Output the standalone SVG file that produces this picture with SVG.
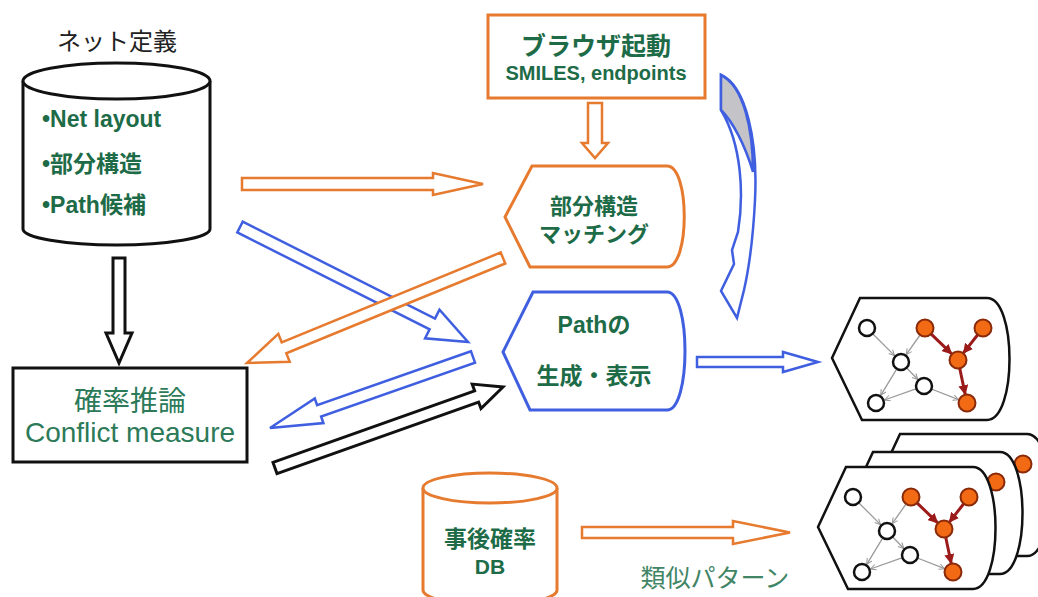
<svg xmlns="http://www.w3.org/2000/svg" width="1038" height="597" viewBox="0 0 1038 597">
<style>
.bg{fill:#ffffff}
.or{fill:#ffffff;stroke:#e67a2e;stroke-width:3}
.bl{fill:#ffffff;stroke:#3f5fe0;stroke-width:3}
.bk{fill:#ffffff;stroke:#111111;stroke-width:3}
.arO{fill:#ffffff;stroke:#e67a2e;stroke-width:2.5;stroke-linejoin:miter}
.arB{fill:#ffffff;stroke:#3f5fe0;stroke-width:2.5;stroke-linejoin:miter}
.arK{fill:#ffffff;stroke:#111111;stroke-width:3;stroke-linejoin:miter}
.tb{font-family:"Liberation Sans","Noto Sans CJK JP",sans-serif;font-weight:bold;fill:#1d6b47}
.tn{font-family:"Liberation Sans","Noto Sans CJK JP",sans-serif;fill:#2c7a58}
.wn{fill:#ffffff;stroke:#111111;stroke-width:2.5}
.on{fill:#f26a14;stroke:#8a2a08;stroke-width:2}
.ge{stroke:#9a9a9a;stroke-width:1.3;fill:none;marker-end:url(#mg)}
.re{stroke:#9b1b1b;stroke-width:3;fill:none;marker-end:url(#mr)}
.card{fill:#ffffff;stroke:#111111;stroke-width:2.5}
</style>
<defs>
<marker id="mg" viewBox="0 0 10 10" refX="9" refY="5" markerWidth="7" markerHeight="7" markerUnits="userSpaceOnUse" orient="auto">
<path d="M1,1 L9,5 L1,9" fill="none" stroke="#9a9a9a" stroke-width="1.5"/>
</marker>
<marker id="mr" viewBox="0 0 10 10" refX="9" refY="5" markerWidth="10" markerHeight="10" markerUnits="userSpaceOnUse" orient="auto">
<path d="M0,0 L10,5 L0,10 Z" fill="#9b1b1b"/>
</marker>
<path id="cardShape" d="M860,298 L987,298 C1017,298 1017,420 987,420 L862,420 L832,358 Z"/>
<g id="graph">
<use href="#cardShape" class="card"/>
<line class="ge" x1="872.7" y1="333.7" x2="894.6" y2="355.6"/>
<line class="ge" x1="920.4" y1="334.5" x2="906.2" y2="354.6"/>
<line class="ge" x1="896.8" y1="368.8" x2="880.7" y2="395.3"/>
<line class="ge" x1="906.5" y1="367.8" x2="917.8" y2="379.5"/>
<line class="ge" x1="916.5" y1="388.7" x2="884.5" y2="400.0"/>
<line class="ge" x1="931.4" y1="389.0" x2="958.6" y2="399.7"/>
<line class="re" x1="930.7" y1="333.6" x2="951.5" y2="353.7"/>
<line class="re" x1="978.1" y1="334.3" x2="963.5" y2="352.9"/>
<line class="re" x1="959.6" y1="367.8" x2="965.2" y2="394.2"/>
<circle class="wn" cx="867" cy="328" r="8"/>
<circle class="on" cx="925" cy="328" r="8.5"/>
<circle class="on" cx="983" cy="328" r="8.5"/>
<circle class="wn" cx="901" cy="362" r="8"/>
<circle class="on" cx="958" cy="360" r="8.5"/>
<circle class="wn" cx="924" cy="386" r="8"/>
<circle class="wn" cx="876" cy="403" r="8"/>
<circle class="on" cx="967" cy="403" r="8.5"/>
</g>
</defs>
<rect class="bg" x="0" y="0" width="1038" height="597"/>

<g id="connectors">
<polygon id="a-net-match" class="arO" points="242,178 433,178 433,173 483,184 433,195 433,190 242,190"/>
<polygon id="a-browser-match" class="arO" points="588,103 602,103 602,143 608,143 595,158 582,143 588,143"/>
<polygon id="a-net-conflict" class="arK" points="113,258 125,258 125,333 132,333 119,363 106,333 113,333"/>
<polygon id="a-path-result" class="arB" points="697,357 783,357 783,352 818,362 783,372 783,367 697,367"/>
<polygon id="a-db-similar" class="arO" points="582,527 733,527 733,521 790,532.5 733,544 733,538 582,538"/>
<polygon id="a-net-path" class="arB" points="242.7,221.6 435.0,318.6 439.5,309.7 468,342 425.1,338.3 429.6,329.4 237.3,232.4"/>
<polygon id="a-match-conflict" class="arO" points="500.7,252.5 281.7,342.3 278.3,333.9 247,363 289.7,361.7 286.3,353.3 505.3,263.5"/>
<polygon id="a-path-conflict" class="arB" points="471.0,351.3 317.1,405.1 314.8,398.5 270,428 323.4,423.1 321.1,416.5 475.0,362.7"/>
<polygon id="a-conflict-path" class="arK" points="273.0,462.4 474.6,390.8 472.2,384.1 503,387 481.0,408.6 478.6,402.1 277.0,473.7"/>
<g id="a-browser-path">
<path class="arB" d="M721,75 C746,86 758,140 755,200 C753,240 749,268 744,290 L737,318 L721,291 L734,264 L732,250 L738,232 C744,195 742,145 721,110 Z"/>
<path d="M721,75 C744,86 753,130 753,172 C745,145 733,122 721,110 Z" fill="#c4c4c8" stroke="#3f5fe0" stroke-width="2.5"/>
</g>
</g>

<g id="node-net">
<text class="tn" x="117" y="50" font-size="24" text-anchor="middle" style="fill:#222222">ネット定義</text>
<path class="bk" d="M23,81 L23,229 A93.5,16 0 0 0 210,229 L210,81"/>
<ellipse class="bk" cx="116.5" cy="81" rx="93.5" ry="18"/>
<text class="tb" x="42" y="127" font-size="23">•Net layout</text>
<text class="tb" x="42" y="172" font-size="23">•部分構造</text>
<text class="tb" x="42" y="213" font-size="23">•Path候補</text>
</g>

<g id="node-browser">
<rect class="or" x="488" y="15" width="217" height="83"/>
<text class="tb" x="596" y="55" font-size="25" text-anchor="middle">ブラウザ起動</text>
<text class="tb" x="596" y="80" font-size="20" text-anchor="middle">SMILES, endpoints</text>
</g>

<g id="node-match">
<path class="or" d="M532,166 L667,166 C690,166 690,267 667,267 L530,267 L505,217 Z"/>
<text class="tb" x="594" y="214" font-size="22" text-anchor="middle">部分構造</text>
<text class="tb" x="594" y="242" font-size="22" text-anchor="middle">マッチング</text>
</g>

<g id="node-path">
<path class="bl" d="M533,292 L667,292 C691,292 691,410 667,410 L530,410 L503,352 Z"/>
<text class="tb" x="594" y="333" font-size="23" text-anchor="middle">Pathの</text>
<text class="tb" x="594" y="384" font-size="23" text-anchor="middle">生成・表示</text>
</g>

<g id="node-conflict">
<rect class="bk" x="13" y="368" width="234" height="94"/>
<text class="tn" x="130" y="411" font-size="28" text-anchor="middle">確率推論</text>
<text class="tn" x="130" y="442" font-size="28" text-anchor="middle">Conflict measure</text>
</g>

<g id="node-db">
<path class="or" d="M423,488 L423,590 A67,15 0 0 0 557,590 L557,488"/>
<ellipse class="or" cx="490" cy="488" rx="67" ry="15"/>
<text class="tb" x="490" y="547" font-size="23" text-anchor="middle">事後確率</text>
<text class="tb" x="490" y="574" font-size="21" text-anchor="middle">DB</text>
</g>

<g id="node-result">
<use href="#graph"/>
</g>

<g id="node-similar">
<g transform="translate(40,136)">
<use href="#cardShape" class="card"/>
<circle class="on" cx="983" cy="328" r="8.5"/>
</g>
<g transform="translate(13,154)">
<use href="#cardShape" class="card"/>
<circle class="on" cx="983" cy="328" r="8.5"/>
</g>
<g transform="translate(-14,169)">
<use href="#graph"/>
</g>
<text class="tn" x="715" y="587" font-size="25" text-anchor="middle" style="fill:#3f8566">類似パターン</text>
</g>
</svg>
